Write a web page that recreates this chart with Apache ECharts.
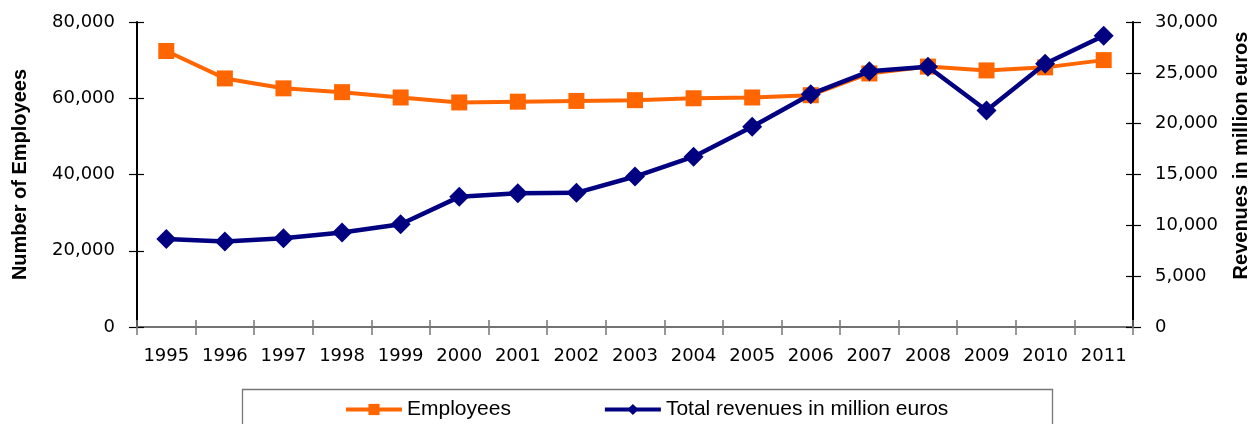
<!DOCTYPE html>
<html>
<head>
<meta charset="utf-8">
<script src="https://cdn.jsdelivr.net/npm/echarts@6/dist/echarts.min.js"></script>
<style>
html,body{margin:0;padding:0;background:#fff;}
#chart{width:1253px;height:424px;}
</style>
</head>
<body>
<div id="chart"></div>
<script>
const years = ['1995','1996','1997','1998','1999','2000','2001','2002','2003','2004','2005','2006','2007','2008','2009','2010','2011'];
const employees = [72400, 65200, 62600, 61600, 60200, 58900, 59100, 59300, 59500, 60000, 60200, 60800, 66500, 68300, 67300, 68100, 70000];
const revenues = [8650, 8400, 8720, 9300, 10100, 12800, 13150, 13200, 14800, 16750, 19700, 22900, 25150, 25600, 21300, 25900, 28650];
const leftTicks = {min: 0, max: 80000, interval: 20000};
const rightTicks = {min: 0, max: 30000, interval: 5000};
const seriesNames = ['Employees', 'Total revenues in million euros'];
const axisNames = ['Number of Employees', 'Revenues in million euros'];

const chart = echarts.init(document.getElementById('chart'), null, {renderer: 'canvas'});
const fmt = v => v.toLocaleString('en-US');
const tickFont = {fontFamily: 'DejaVu Sans', fontSize: 18, color: '#000'};
const nameFont = {fontFamily: 'Liberation Sans', fontSize: 20, fontWeight: 'bold', color: '#000'};

chart.setOption({
  animation: false,
  backgroundColor: '#fff',
  grid: {left: 137, right: 120, top: 22, bottom: 97, containLabel: false, outerBoundsMode: 'none'},
  legend: {
    data: seriesNames,
    left: 344, top: 399, padding: 0,
    itemWidth: 56, itemHeight: 14, itemGap: 92,
    lineStyle: {width: 4},
    textStyle: {fontFamily: 'Liberation Sans', fontSize: 21, color: '#000'}
  },
  graphic: [{
    type: 'rect', shape: {x: 242.5, y: 389.5, width: 810, height: 60},
    style: {fill: 'none', stroke: '#777', lineWidth: 1.3}, silent: true, z: 0
  }],
  xAxis: [
    {type: 'category', data: years, position: 'bottom', boundaryGap: true,
     axisLine: {lineStyle: {color: '#333', width: 2}},
     axisTick: {show: true, interval: 0, inside: false, length: 8, lineStyle: {color: '#777', width: 1.5}},
     axisLabel: Object.assign({margin: 20, interval: 0}, tickFont), splitLine: {show: false}},
    {type: 'category', data: years, position: 'bottom', boundaryGap: true,
     axisLine: {show: false},
     axisTick: {show: true, interval: 0, inside: true, length: 7, lineStyle: {color: '#777', width: 1.5}},
     axisLabel: {show: false}, splitLine: {show: false}},
    {type: 'category', data: years, position: 'top', boundaryGap: true,
     axisLine: {show: true, lineStyle: {color: '#888', width: 1.5}},
     axisTick: {show: false}, axisLabel: {show: false}, splitLine: {show: false}}
  ],
  yAxis: [
    Object.assign({type: 'value', position: 'left', name: axisNames[0], nameLocation: 'middle', nameRotate: 90, nameGap: 107,
     nameTextStyle: nameFont,
     axisLine: {show: true, lineStyle: {color: '#000', width: 2}},
     axisTick: {show: true, inside: false, length: 8, lineStyle: {color: '#000', width: 1.2}},
     axisLabel: Object.assign({margin: 22, formatter: fmt}, tickFont), splitLine: {show: false}}, leftTicks),
    Object.assign({type: 'value', position: 'right', name: axisNames[1], nameLocation: 'middle', nameRotate: 90, nameGap: 98,
     nameTextStyle: Object.assign({padding: [0, 0, 0, 38]}, nameFont),
     axisLine: {show: true, lineStyle: {color: '#000', width: 2}},
     axisTick: {show: true, inside: false, length: 8, lineStyle: {color: '#000', width: 1.2}},
     axisLabel: Object.assign({margin: 22, formatter: fmt}, tickFont), splitLine: {show: false}}, rightTicks),
    Object.assign({type: 'value', position: 'left',
     axisLine: {show: false}, axisTick: {show: true, inside: true, length: 7, lineStyle: {color: '#000', width: 1.2}},
     axisLabel: {show: false}, splitLine: {show: false}}, leftTicks),
    Object.assign({type: 'value', position: 'right',
     axisLine: {show: false}, axisTick: {show: true, inside: true, length: 7, lineStyle: {color: '#000', width: 1.2}},
     axisLabel: {show: false}, splitLine: {show: false}}, rightTicks)
  ],
  series: [
    {name: seriesNames[0], type: 'line', data: employees, xAxisIndex: 0, yAxisIndex: 0,
     symbol: 'rect', symbolSize: 16, lineStyle: {color: '#FF6600', width: 4},
     itemStyle: {color: '#FF6600'}, z: 3},
    {name: seriesNames[1], type: 'line', data: revenues, xAxisIndex: 0, yAxisIndex: 1,
     symbol: 'diamond', symbolSize: 20, lineStyle: {color: '#000080', width: 4.5},
     itemStyle: {color: '#000080'}, z: 4}
  ]
});
</script>
</body>
</html>
